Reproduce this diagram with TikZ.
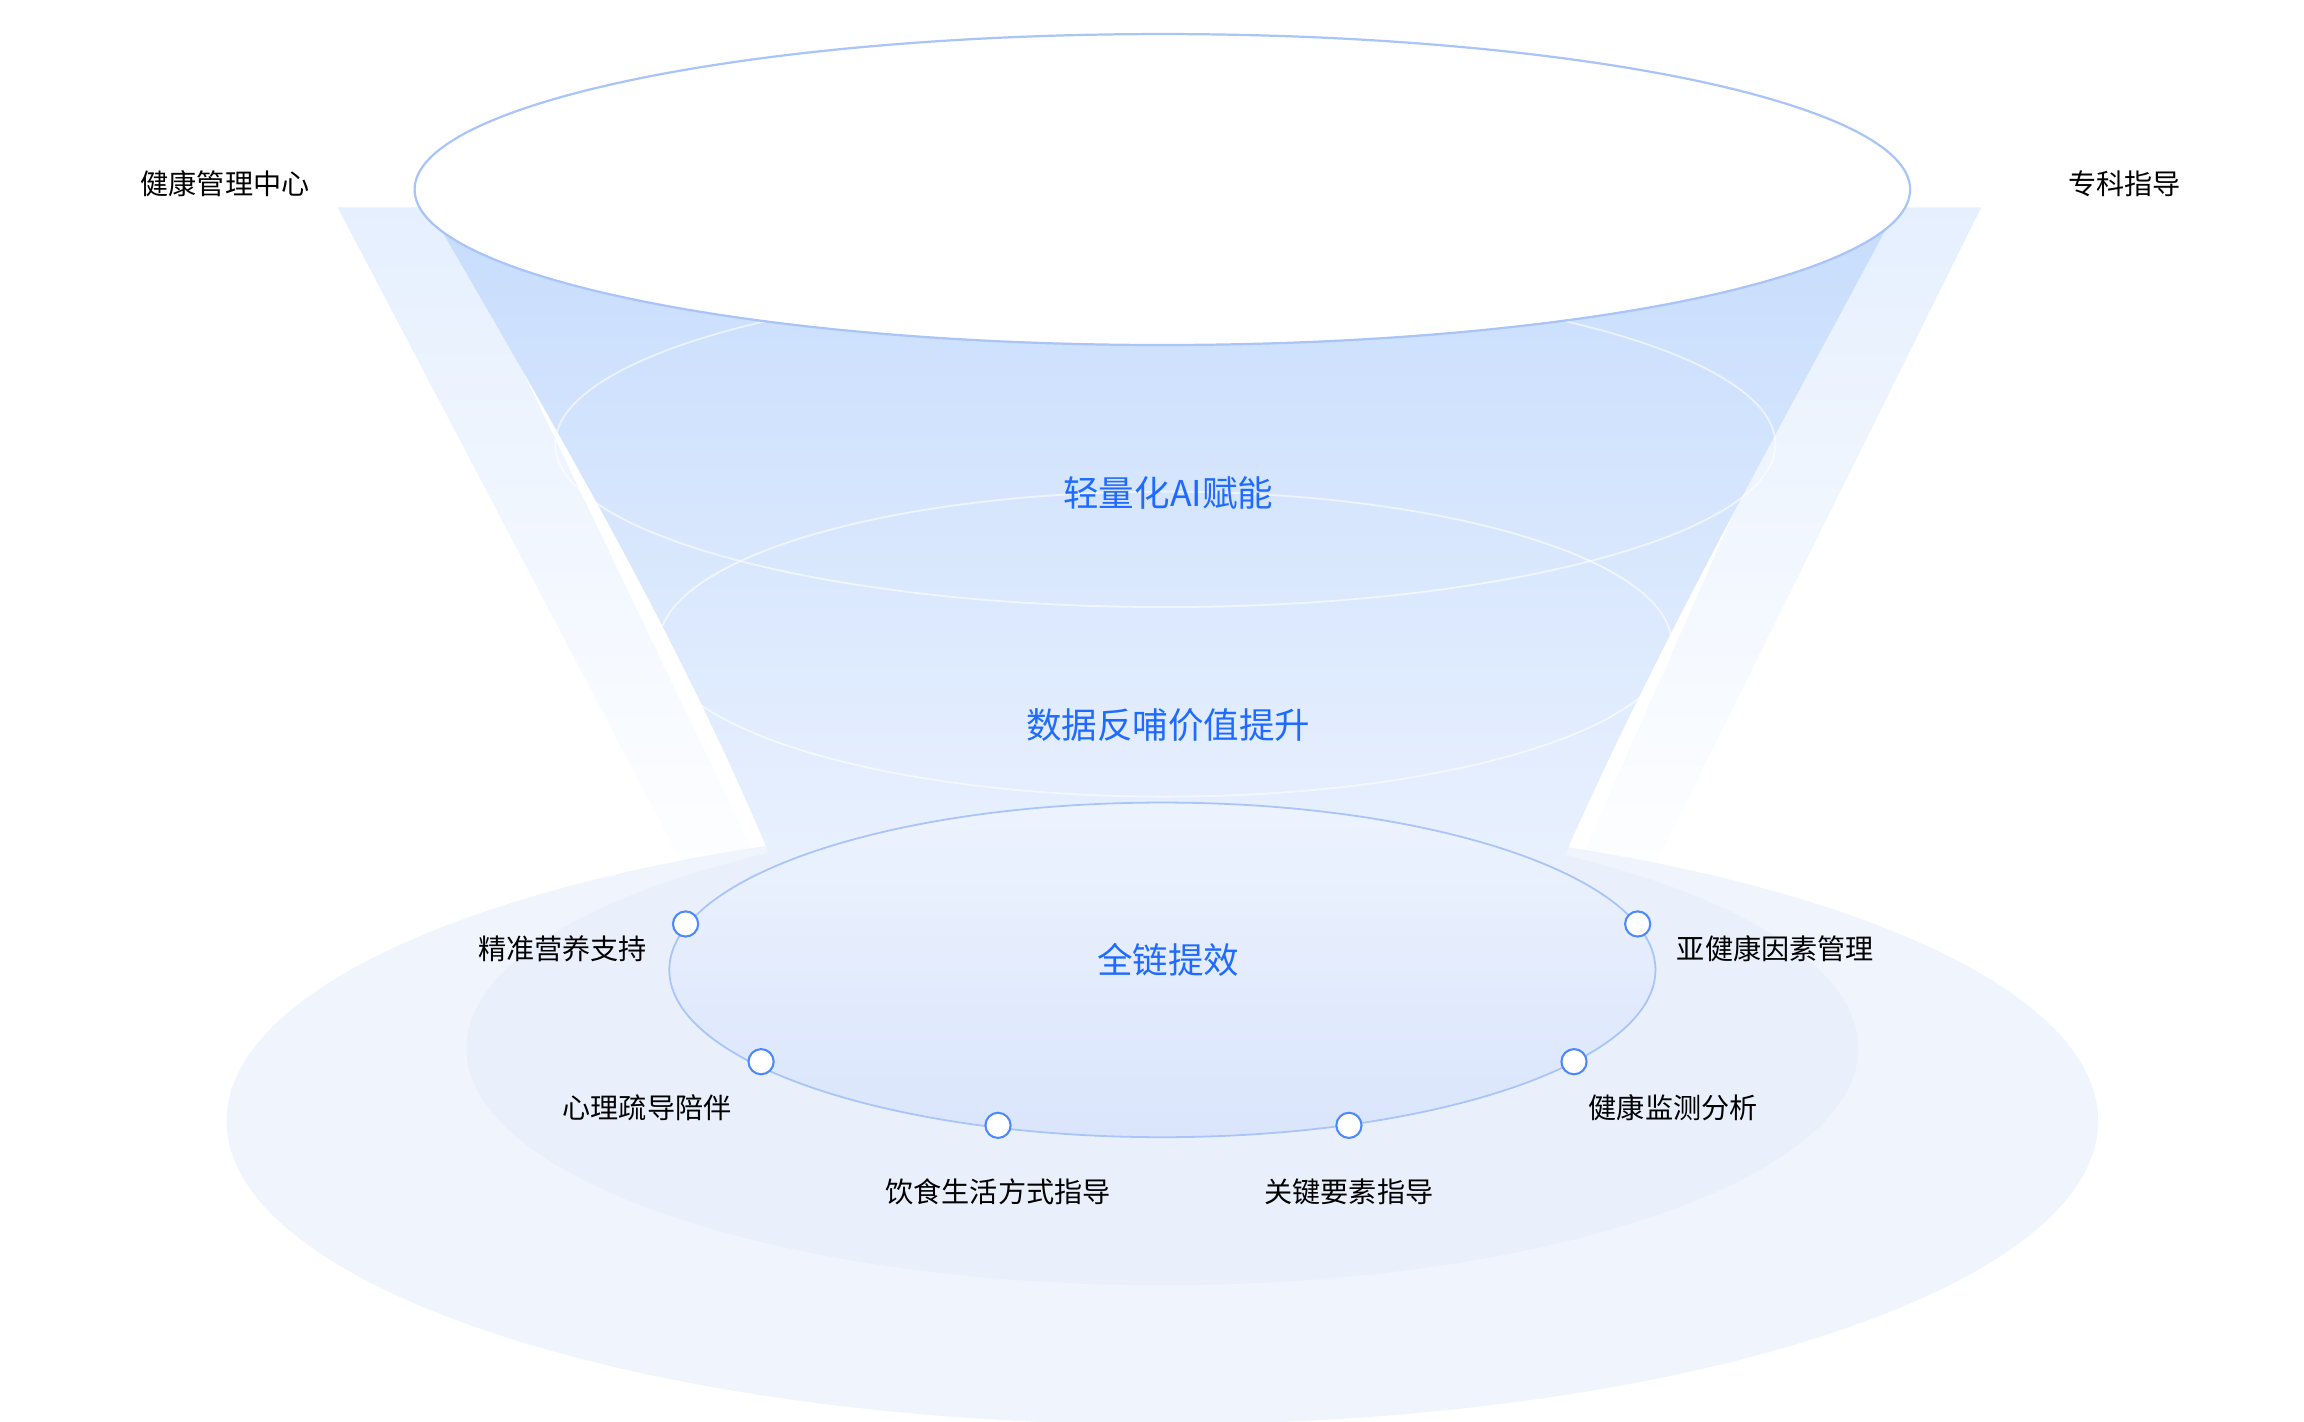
\documentclass[tikz,border=0pt]{standalone}
\usepackage{fontspec}
\setmainfont{Noto Sans CJK SC}
\definecolor{funblue}{HTML}{1F6BFF}
\definecolor{rimblue}{HTML}{A9C4F8}
\definecolor{plateA}{HTML}{F0F4FD}
\definecolor{plateB}{HTML}{E6EEFC}
\definecolor{coneblue}{HTML}{C6DCFD}
\definecolor{conelow}{HTML}{EDF3FE}
\definecolor{innerlow}{HTML}{DAE5FC}
\tikzset{
  stagetext/.style={text=funblue,font=\fontsize{24}{28}\selectfont},
  sidetext/.style={text=black,font=\fontsize{19}{22}\selectfont},
  dotnode/.style={circle,draw=funblue!80,fill=white,line width=1.4pt,minimum size=17pt,inner sep=0pt}
}
\begin{document}
\begin{tikzpicture}[x=1pt,y=-1pt]
			\useasboundingbox (0,0) rectangle (1556,960);

			\shade [top color=coneblue!45, bottom color=white] (228,140) -- (300,140) -- (530,620) -- (480,620) -- cycle;
			\shade [top color=coneblue!45, bottom color=white] (1338,140) -- (1262,140) -- (1050,620) -- (1100,620) -- cycle;

			\fill [plateA] (785,757) ellipse [x radius=632pt, y radius=205pt];
			\fill [plateB!70!plateA] (785,708) ellipse [x radius=470pt, y radius=160pt];

			\shade [top color=coneblue, bottom color=conelow]
				(282,128) .. controls (400,330) and (480,470) .. (545,640)
				-- (1030,640) .. controls (1100,470) and (1180,330) .. (1288,128) -- cycle;

			\shade [top color=conelow, bottom color=innerlow] (785,655) ellipse [x radius=333pt, y radius=113pt];
			\draw [rimblue, line width=1.2pt] (785,655) ellipse [x radius=333pt, y radius=113pt];

			\draw [white, line width=1.2pt, opacity=0.6] (787,300) ellipse [x radius=412pt, y radius=110pt];
			\draw [white, line width=1.2pt, opacity=0.6] (787,435) ellipse [x radius=342pt, y radius=103pt];

			\draw [rimblue, fill=white, line width=1.5pt] (785,128) ellipse [x radius=505pt, y radius=105pt];

			\node [stagetext] (ai) at (789,333) {轻量化AI赋能};
			\node [stagetext] (data) at (789,490) {数据反哺价值提升};
			\node [stagetext] (chain) at (789,648) {全链提效};

			\node [sidetext] (center) at (152,124) {健康管理中心};
			\node [sidetext] (expert) at (1435,124) {专科指导};

			\node [dotnode] (d1) at (463,624) {};
			\node [dotnode] (d2) at (514,717) {};
			\node [dotnode] (d3) at (674,760) {};
			\node [dotnode] (d4) at (911,760) {};
			\node [dotnode] (d5) at (1063,717) {};
			\node [dotnode] (d6) at (1106,624) {};

			\node [sidetext] (l1) at (380,641) {精准营养支持};
			\node [sidetext] (l2) at (437,748) {心理疏导陪伴};
			\node [sidetext] (l3) at (674,805) {饮食生活方式指导};
			\node [sidetext] (l4) at (911,805) {关键要素指导};
			\node [sidetext] (l5) at (1130,748) {健康监测分析};
			\node [sidetext] (l6) at (1199,641) {亚健康因素管理};
		\end{tikzpicture}
\end{document}
